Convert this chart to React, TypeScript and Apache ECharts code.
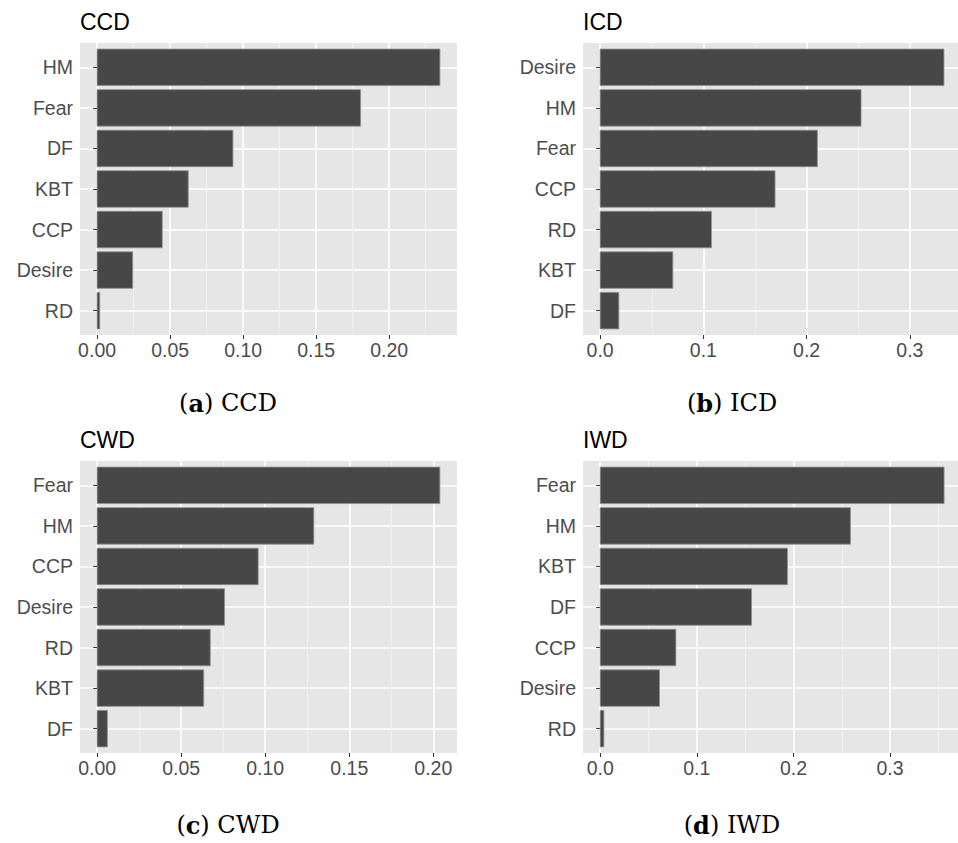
import React, { useEffect, useRef } from "react";
import * as echarts from "echarts";

// ---- data ----
const ccdCategories = ["HM", "Fear", "DF", "KBT", "CCP", "Desire", "RD"];
const ccdValues = [0.2347, 0.1804, 0.093, 0.0624, 0.0446, 0.0244, 0.0018];

const icdCategories = ["Desire", "HM", "Fear", "CCP", "RD", "KBT", "DF"];
const icdValues = [0.333, 0.2527, 0.2104, 0.1694, 0.1078, 0.0704, 0.0181];

const cwdCategories = ["Fear", "HM", "CCP", "Desire", "RD", "KBT", "DF"];
const cwdValues = [0.2039, 0.1289, 0.0958, 0.0758, 0.0673, 0.0634, 0.0061];

const iwdCategories = ["Fear", "HM", "KBT", "DF", "CCP", "Desire", "RD"];
const iwdValues = [0.3559, 0.259, 0.1938, 0.1566, 0.0783, 0.0614, 0.0038];

const ticksHundredths = [0, 0.05, 0.1, 0.15, 0.2];
const ticksTenths = [0, 0.1, 0.2, 0.3];

const panelTitles = ["CCD", "ICD", "CWD", "IWD"];
const captionLetters = ["a", "b", "c", "d"];

// ---- layout / styling ----
const SANS = '"Liberation Sans", Arial, Helvetica, sans-serif';
const SERIF = '"DejaVu Serif", "Liberation Serif", serif';
const PANEL_H = 292;

const panels = [
  { cats: ccdCategories, vals: ccdValues, ticks: ticksHundredths, step: 0.05, digits: 2, xMin: -0.0117, xMax: 0.2464, left: 80, top: 43, width: 377, capX: 228, capY: 403 },
  { cats: icdCategories, vals: icdValues, ticks: ticksTenths, step: 0.1, digits: 1, xMin: -0.0166, xMax: 0.3466, left: 583, top: 43, width: 375, capX: 732, capY: 403 },
  { cats: cwdCategories, vals: cwdValues, ticks: ticksHundredths, step: 0.05, digits: 2, xMin: -0.0102, xMax: 0.2141, left: 80, top: 461, width: 377, capX: 228, capY: 825 },
  { cats: iwdCategories, vals: iwdValues, ticks: ticksTenths, step: 0.1, digits: 1, xMin: -0.0178, xMax: 0.3703, left: 583, top: 461, width: 375, capX: 732, capY: 825 },
];

export default function App() {
  const ref = useRef<HTMLDivElement>(null);

  useEffect(() => {
    if (!ref.current) return;
    const chart = echarts.init(ref.current, null, { renderer: "svg" });

    const grid: any[] = [];
    const xAxis: any[] = [];
    const yAxis: any[] = [];
    const series: any[] = [];
    const graphic: any[] = [];

    panels.forEach((p, k) => {
      const n = p.cats.length;
      const yPositions = p.cats.map((_, i) => n - i);
      grid.push({
        left: p.left,
        top: p.top,
        width: p.width,
        height: PANEL_H,
        show: true,
        backgroundColor: "#e6e6e6",
        borderWidth: 0,
        containLabel: false,
      });
      xAxis.push({
        type: "value",
        gridIndex: k,
        min: p.xMin,
        max: p.xMax,
        minInterval: p.step,
        maxInterval: p.step,
        position: "bottom",
        axisLine: { show: false },
        axisTick: { show: true, length: 4, customValues: p.ticks, lineStyle: { color: "#333333", width: 1 } },
        axisLabel: {
          show: true,
          customValues: p.ticks,
          margin: 5,
          color: "#4d4d4d",
          fontSize: 19.5,
          fontFamily: SANS,
          formatter: (v: number) => v.toFixed(p.digits),
        },
        splitLine: { show: true, lineStyle: { color: "#ffffff", width: 1.6 } },
        minorTick: { show: false, splitNumber: 2 },
        minorSplitLine: { show: true, lineStyle: { color: "#f3f3f3", width: 0.8 } },
      });
      yAxis.push({
        type: "value",
        gridIndex: k,
        min: 0.4,
        max: n + 0.6,
        position: "left",
        axisLine: { show: false },
        axisTick: { show: true, length: 4, customValues: yPositions, lineStyle: { color: "#333333", width: 1 } },
        axisLabel: {
          show: true,
          customValues: yPositions,
          margin: 7,
          color: "#4d4d4d",
          fontSize: 19.5,
          fontFamily: SANS,
          formatter: (v: number) => p.cats[n - Math.round(v)] ?? "",
        },
        splitLine: { show: true, lineStyle: { color: "#ffffff", width: 1.6 } },
      });
      series.push({
        type: "custom",
        coordinateSystem: "cartesian2d",
        xAxisIndex: k,
        yAxisIndex: k,
        encode: { x: 0, y: 1 },
        data: p.vals.map((v, i) => [v, n - i]),
        renderItem: (_params: any, api: any) => {
          const v = api.value(0);
          const c = api.value(1);
          const start = api.coord([0, c]);
          const end = api.coord([v, c]);
          const h = api.size([0, 0.9])[1];
          return {
            type: "rect",
            shape: { x: start[0], y: start[1] - h / 2, width: end[0] - start[0], height: h },
            style: { fill: "#474747", stroke: "#8f8f8f", lineWidth: 0.8 },
          };
        },
        z: 3,
      });
      graphic.push({
        type: "text",
        x: p.left,
        y: p.top - 21.5,
        style: {
          text: panelTitles[k],
          fontSize: 23,
          fontFamily: SANS,
          fill: "#000000",
          align: "left",
          verticalAlign: "middle",
        },
      });
      graphic.push({
        type: "text",
        x: p.capX,
        y: p.capY,
        style: {
          text: `{p|(}{b|${captionLetters[k]}}{p|) ${panelTitles[k]}}`,
          fontSize: 24,
          fontFamily: SERIF,
          fill: "#000000",
          align: "center",
          verticalAlign: "middle",
          rich: {
            p: { fontSize: 24, fontFamily: SERIF, fill: "#000000", fontWeight: "normal" },
            b: { fontSize: 24, fontFamily: SERIF, fill: "#000000", fontWeight: "bold" },
          },
        },
      });
    });

    chart.setOption({
      animation: false,
      backgroundColor: "#ffffff",
      grid,
      xAxis,
      yAxis,
      series,
      graphic,
    });

    return () => chart.dispose();
  }, []);

  return (
    <div
      ref={ref}
      style={{ position: "absolute", left: 0, top: 0, width: 958, height: 843, background: "#ffffff" }}
    />
  );
}
